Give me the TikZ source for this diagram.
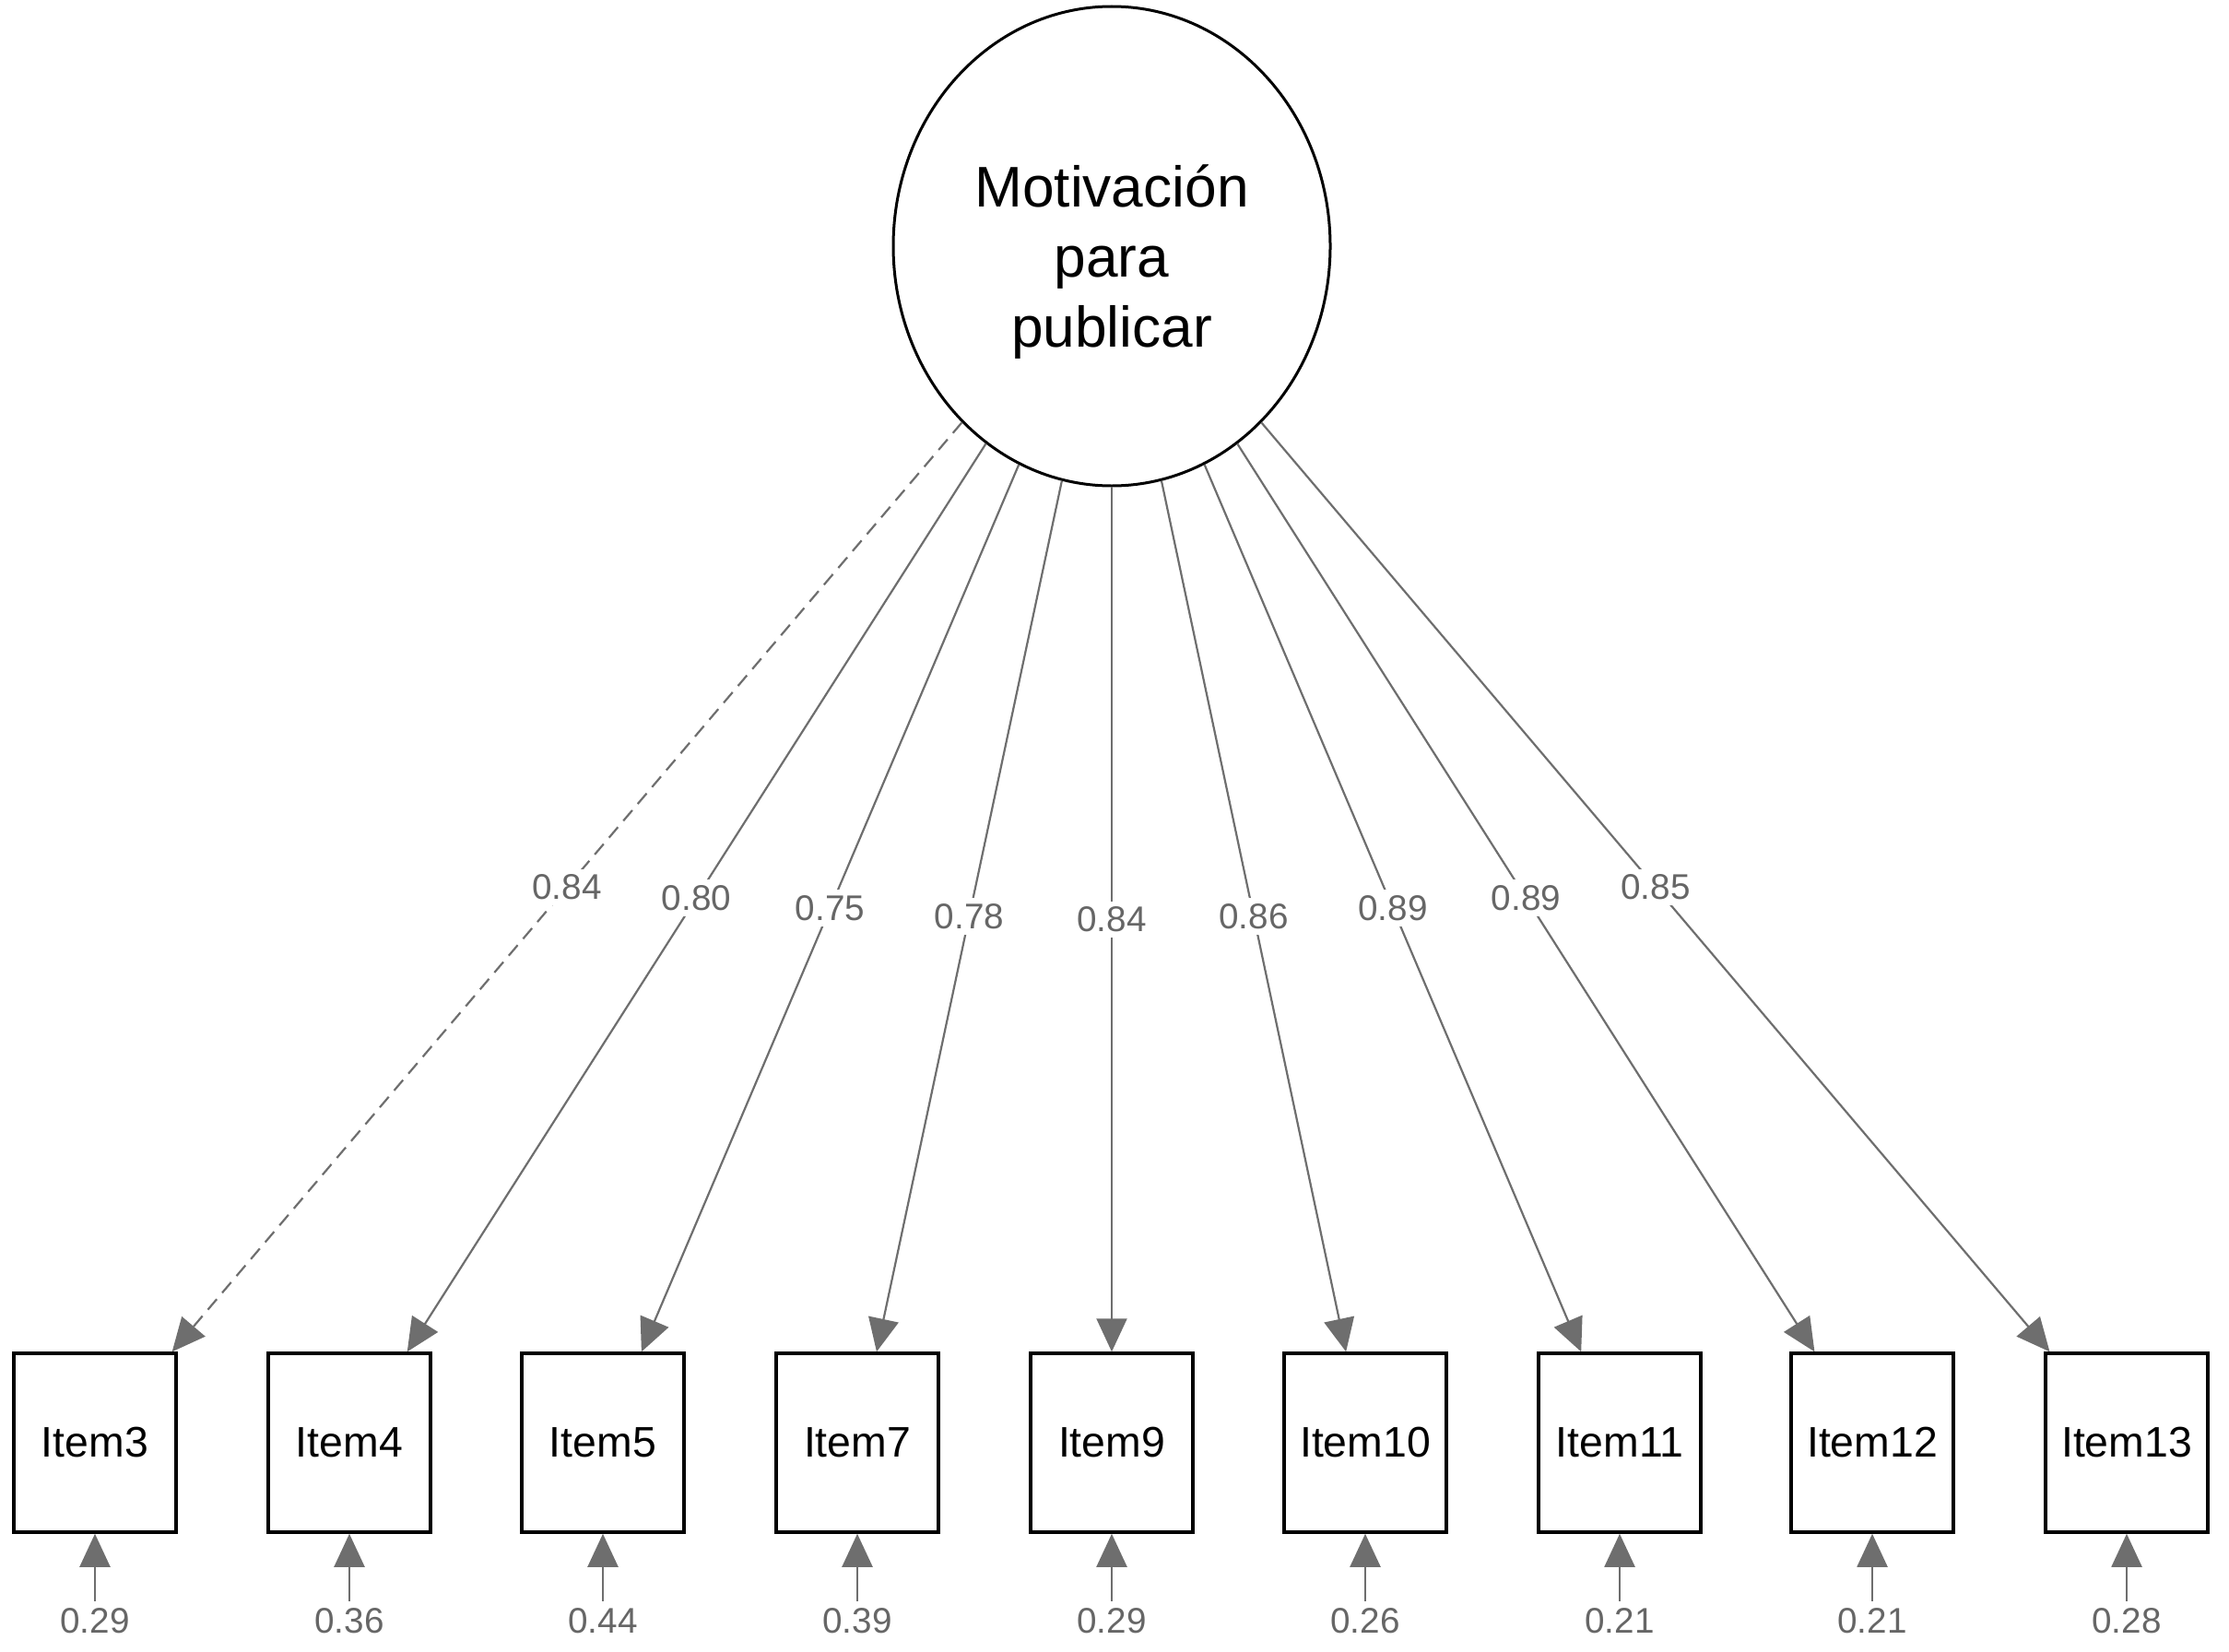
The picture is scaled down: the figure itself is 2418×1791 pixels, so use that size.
\documentclass[tikz,border=0pt]{standalone}
\usepackage{fontspec}
\setmainfont{Liberation Sans}
\usepackage{xcolor}
\usetikzlibrary{arrows.meta,shapes.geometric}
\definecolor{edgegray}{HTML}{6E6E6E}
\definecolor{labgray}{HTML}{666666}

\begin{document}
\begin{tikzpicture}[x=0.1mm, y=-0.1mm,
    latent/.style={draw=black, line width=0.3mm, ellipse, minimum width=47.4mm, minimum height=52mm, inner sep=0pt},
    latentlab/.style={align=center, inner sep=0pt, font=\fontsize{17.7}{21.6}\selectfont},
    item/.style={draw=black, line width=0.35mm, minimum width=17.6mm, minimum height=19.4mm, inner sep=0pt, font=\fontsize{13.2}{15}\selectfont},
    load/.style={draw=edgegray, line width=0.22mm, -{Triangle[length=3.6mm, width=3.3mm]}},
    loaddash/.style={load, dash pattern=on 1.5mm off 0.9mm},
    loadlab/.style={fill=white, text=labgray, inner sep=0.6mm, font=\fontsize{11}{13}\selectfont},
    errlab/.style={text=labgray, inner sep=0.7mm, font=\fontsize{11}{13}\selectfont}]
    \useasboundingbox (0,0) rectangle (2418,1791);
    % Latent factor
    \node[latent] (mot) at (1206,267) {};
    \node[latentlab] (motlab) at (1206,284) {Motivación\\para\\publicar};
    % Observed items
    \node[item] (i3) at (103,1565) {Item3};
    \node[item] (i4) at (379,1565) {Item4};
    \node[item] (i5) at (654,1565) {Item5};
    \node[item] (i7) at (930,1565) {Item7};
    \node[item] (i9) at (1206,1565) {Item9};
    \node[item] (i10) at (1481,1565) {Item10};
    \node[item] (i11) at (1757,1565) {Item11};
    \node[item] (i12) at (2031,1565) {Item12};
    \node[item] (i13) at (2307,1565) {Item13};
    % Loadings
    \draw[loaddash] (mot) -- node[loadlab] {0.84} (i3);
    \draw[load] (mot) -- node[loadlab] {0.80} (i4);
    \draw[load] (mot) -- node[loadlab] {0.75} (i5);
    \draw[load] (mot) -- node[loadlab] {0.78} (i7);
    \draw[load] (mot) -- node[loadlab] {0.84} (i9);
    \draw[load] (mot) -- node[loadlab] {0.86} (i10);
    \draw[load] (mot) -- node[loadlab] {0.89} (i11);
    \draw[load] (mot) -- node[loadlab] {0.89} (i12);
    \draw[load] (mot) -- node[loadlab] {0.85} (i13);
    % Residual variances
    \node[errlab] (e3) at (103,1758) {0.29};
    \node[errlab] (e4) at (379,1758) {0.36};
    \node[errlab] (e5) at (654,1758) {0.44};
    \node[errlab] (e7) at (930,1758) {0.39};
    \node[errlab] (e9) at (1206,1758) {0.29};
    \node[errlab] (e10) at (1481,1758) {0.26};
    \node[errlab] (e11) at (1757,1758) {0.21};
    \node[errlab] (e12) at (2031,1758) {0.21};
    \node[errlab] (e13) at (2307,1758) {0.28};
    \draw[load] (e3) -- (i3);
    \draw[load] (e4) -- (i4);
    \draw[load] (e5) -- (i5);
    \draw[load] (e7) -- (i7);
    \draw[load] (e9) -- (i9);
    \draw[load] (e10) -- (i10);
    \draw[load] (e11) -- (i11);
    \draw[load] (e12) -- (i12);
    \draw[load] (e13) -- (i13);
\end{tikzpicture}
\end{document}
